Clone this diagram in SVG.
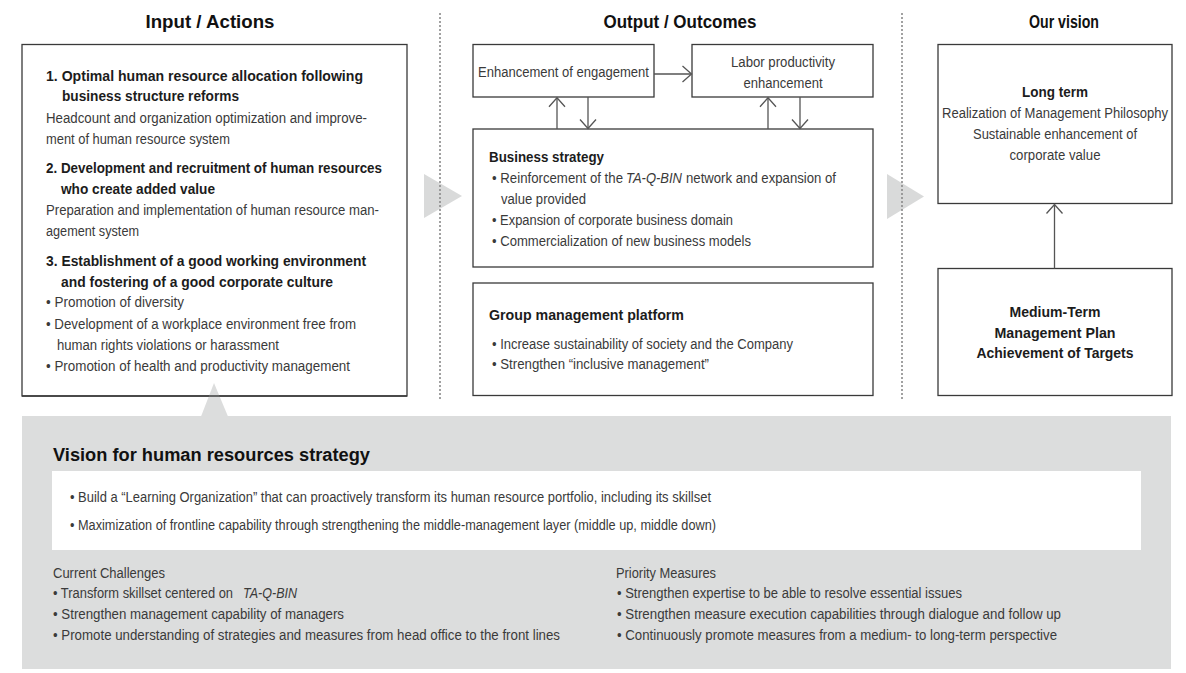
<svg xmlns="http://www.w3.org/2000/svg" width="1186" height="673" viewBox="0 0 1186 673">
  <style>
    text { font-family: "Liberation Sans", Arial, sans-serif; }
    .t { font-size: 14px; fill: #3a3a3a; }
    .i { font-style: italic; }
    .b { font-size: 15px; font-weight: bold; fill: #1c1c1c; }
    .h { font-size: 18px; font-weight: bold; fill: #111; }
    .ttl { font-size: 17.5px; font-weight: bold; fill: #111; }
    .c { text-anchor: middle; }
    .box { fill: #fff; stroke: #3a3a3a; stroke-width: 1.3; }
    .div { stroke: #8a8a8a; stroke-width: 1.6; stroke-dasharray: 2 2; fill: none; }
    .flow { fill: #d9dada; }
    .con { stroke: #555; stroke-width: 1.3; fill: none; marker-end: url(#chev); }
  </style>
  <defs>
    <marker id="chev" viewBox="-1 -1 12 18" refX="9" refY="8" markerWidth="12" markerHeight="18" markerUnits="userSpaceOnUse" orient="auto">
      <path d="M0,0 L9,8 L0,16" fill="none" stroke="#555" stroke-width="1.3"/>
    </marker>
  </defs>

  <rect width="1186" height="673" fill="#fff"/>

  <!-- column headers -->
  <g id="headers">
    <text class="h c" x="210" y="28" textLength="129" lengthAdjust="spacingAndGlyphs">Input / Actions</text>
    <text class="h c" x="680" y="28" textLength="153" lengthAdjust="spacingAndGlyphs">Output / Outcomes</text>
    <text class="h c" x="1064" y="28" textLength="70" lengthAdjust="spacingAndGlyphs">Our vision</text>
  </g>

  <!-- flow triangles between columns -->
  <g id="flow-arrows">
    <polygon class="flow" points="424,174 462,196 424,218"/>
    <polygon class="flow" points="887,174 924,196.5 887,219"/>
  </g>

  <!-- column dividers -->
  <g id="dividers">
    <line class="div" x1="440" y1="13" x2="440" y2="400"/>
    <line class="div" x1="902" y1="13" x2="902" y2="400"/>
  </g>

  <!-- Input / Actions -->
  <g id="actions">
    <rect class="box" x="22" y="44.5" width="385" height="351.5"/>
    <text class="b" x="46" y="81" textLength="317" lengthAdjust="spacingAndGlyphs">1. Optimal human resource allocation following</text>
    <text class="b" x="62" y="101" textLength="177" lengthAdjust="spacingAndGlyphs">business structure reforms</text>
    <text class="t" x="46" y="123" textLength="321" lengthAdjust="spacingAndGlyphs">Headcount and organization optimization and improve-</text>
    <text class="t" x="46" y="144" textLength="184" lengthAdjust="spacingAndGlyphs">ment of human resource system</text>
    <text class="b" x="46" y="173" textLength="336" lengthAdjust="spacingAndGlyphs">2. Development and recruitment of human resources</text>
    <text class="b" x="61" y="194" textLength="154" lengthAdjust="spacingAndGlyphs">who create added value</text>
    <text class="t" x="46" y="215" textLength="333" lengthAdjust="spacingAndGlyphs">Preparation and implementation of human resource man-</text>
    <text class="t" x="46" y="236" textLength="93" lengthAdjust="spacingAndGlyphs">agement system</text>
    <text class="b" x="46" y="266" textLength="320" lengthAdjust="spacingAndGlyphs">3. Establishment of a good working environment</text>
    <text class="b" x="61" y="287" textLength="272" lengthAdjust="spacingAndGlyphs">and fostering of a good corporate culture</text>
    <text class="t" x="46" y="307" textLength="138" lengthAdjust="spacingAndGlyphs">• Promotion of diversity</text>
    <text class="t" x="46" y="329" textLength="310" lengthAdjust="spacingAndGlyphs">• Development of a workplace environment free from</text>
    <text class="t" x="57" y="350" textLength="222" lengthAdjust="spacingAndGlyphs">human rights violations or harassment</text>
    <text class="t" x="46" y="371" textLength="304" lengthAdjust="spacingAndGlyphs">• Promotion of health and productivity management</text>
  </g>

  <!-- Output / Outcomes -->
  <g id="engagement">
    <rect class="box" x="473" y="44.5" width="181" height="52.5"/>
    <text class="t" x="478" y="77" textLength="171" lengthAdjust="spacingAndGlyphs">Enhancement of engagement</text>
  </g>
  <g id="productivity">
    <rect class="box" x="692" y="44.5" width="181" height="52.5"/>
    <text class="t c" x="783" y="67" textLength="104" lengthAdjust="spacingAndGlyphs">Labor productivity</text>
    <text class="t c" x="783" y="88" textLength="79" lengthAdjust="spacingAndGlyphs">enhancement</text>
  </g>
  <g id="business-strategy">
    <rect class="box" x="473" y="129" width="400" height="138"/>
    <text class="b" x="489" y="162" textLength="115" lengthAdjust="spacingAndGlyphs">Business strategy</text>
    <text class="t" x="492" y="183" textLength="131" lengthAdjust="spacingAndGlyphs">• Reinforcement of the</text>
    <text class="t i" x="626" y="183" textLength="56" lengthAdjust="spacingAndGlyphs">TA-Q-BIN</text>
    <text class="t" x="686" y="183" textLength="150" lengthAdjust="spacingAndGlyphs">network and expansion of</text>
    <text class="t" x="501" y="204" textLength="85" lengthAdjust="spacingAndGlyphs">value provided</text>
    <text class="t" x="492" y="225" textLength="241" lengthAdjust="spacingAndGlyphs">• Expansion of corporate business domain</text>
    <text class="t" x="492" y="246" textLength="259" lengthAdjust="spacingAndGlyphs">• Commercialization of new business models</text>
  </g>
  <g id="group-platform">
    <rect class="box" x="473" y="283" width="400" height="112.5"/>
    <text class="b" x="489" y="320" textLength="195" lengthAdjust="spacingAndGlyphs">Group management platform</text>
    <text class="t" x="492" y="349" textLength="301" lengthAdjust="spacingAndGlyphs">• Increase sustainability of society and the Company</text>
    <text class="t" x="492" y="369" textLength="217" lengthAdjust="spacingAndGlyphs">• Strengthen “inclusive management”</text>
  </g>

  <!-- Our vision -->
  <g id="long-term">
    <rect class="box" x="938" y="44.5" width="234" height="159"/>
    <text class="b c" x="1055" y="97" textLength="66" lengthAdjust="spacingAndGlyphs">Long term</text>
    <text class="t c" x="1055" y="118" textLength="226" lengthAdjust="spacingAndGlyphs">Realization of Management Philosophy</text>
    <text class="t c" x="1055" y="139" textLength="164" lengthAdjust="spacingAndGlyphs">Sustainable enhancement of</text>
    <text class="t c" x="1055" y="160" textLength="91" lengthAdjust="spacingAndGlyphs">corporate value</text>
  </g>
  <g id="medium-term">
    <rect class="box" x="938" y="268.5" width="234" height="127"/>
    <text class="b c" x="1055" y="317" textLength="91" lengthAdjust="spacingAndGlyphs">Medium-Term</text>
    <text class="b c" x="1055" y="338" textLength="121" lengthAdjust="spacingAndGlyphs">Management Plan</text>
    <text class="b c" x="1055" y="358" textLength="157" lengthAdjust="spacingAndGlyphs">Achievement of Targets</text>
  </g>

  <!-- connectors -->
  <g id="connectors">
    <line class="con" x1="654" y1="74" x2="691.5" y2="74"/>
    <line class="con" x1="557" y1="129" x2="557" y2="97.8"/>
    <line class="con" x1="588" y1="97" x2="588" y2="128.5"/>
    <line class="con" x1="768" y1="129" x2="768" y2="97.8"/>
    <line class="con" x1="800" y1="97" x2="800" y2="128.5"/>
    <line class="con" x1="1054.5" y1="268.5" x2="1054.5" y2="204.5"/>
  </g>

  <!-- Vision for human resources strategy -->
  <g id="hr-vision">
    <rect x="22" y="416" width="1149" height="253" fill="#dcdddd"/>
    <polygon points="201,416.5 214,383 228,416.5" fill="#dcdddd"/>
    <line x1="22" y1="396" x2="407" y2="396" stroke="#3a3a3a" stroke-width="1.3"/>
    <text class="ttl" x="53" y="461" textLength="317" lengthAdjust="spacingAndGlyphs">Vision for human resources strategy</text>
    <rect x="52" y="471" width="1089" height="79" fill="#fff"/>
    <text class="t" x="70" y="502" textLength="641" lengthAdjust="spacingAndGlyphs">• Build a “Learning Organization” that can proactively transform its human resource portfolio, including its skillset</text>
    <text class="t" x="70" y="530" textLength="646" lengthAdjust="spacingAndGlyphs">• Maximization of frontline capability through strengthening the middle-management layer (middle up, middle down)</text>
  </g>
  <g id="challenges">
    <text class="t" x="53" y="578" textLength="112" lengthAdjust="spacingAndGlyphs">Current Challenges</text>
    <text class="t" x="53" y="598" textLength="180" lengthAdjust="spacingAndGlyphs">• Transform skillset centered on</text>
    <text class="t i" x="243" y="598" textLength="54" lengthAdjust="spacingAndGlyphs">TA-Q-BIN</text>
    <text class="t" x="53" y="619" textLength="291" lengthAdjust="spacingAndGlyphs">• Strengthen management capability of managers</text>
    <text class="t" x="53" y="640" textLength="507" lengthAdjust="spacingAndGlyphs">• Promote understanding of strategies and measures from head office to the front lines</text>
  </g>
  <g id="measures">
    <text class="t" x="616" y="578" textLength="100" lengthAdjust="spacingAndGlyphs">Priority Measures</text>
    <text class="t" x="617" y="598" textLength="345" lengthAdjust="spacingAndGlyphs">• Strengthen expertise to be able to resolve essential issues</text>
    <text class="t" x="617" y="619" textLength="444" lengthAdjust="spacingAndGlyphs">• Strengthen measure execution capabilities through dialogue and follow up</text>
    <text class="t" x="617" y="640" textLength="440" lengthAdjust="spacingAndGlyphs">• Continuously promote measures from a medium- to long-term perspective</text>
  </g>
</svg>
